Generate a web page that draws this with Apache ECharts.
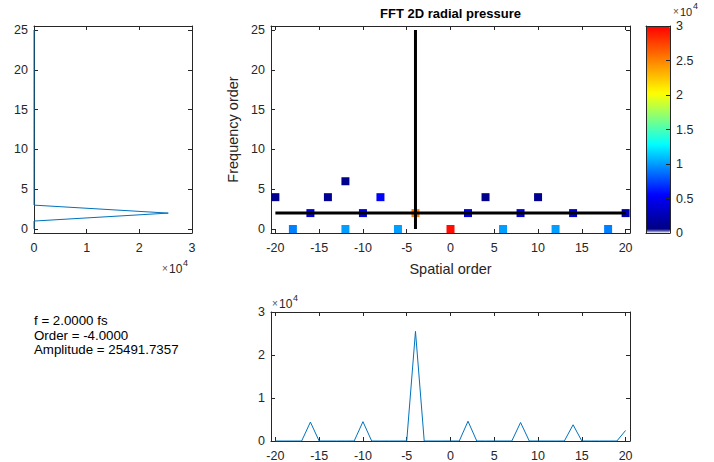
<!DOCTYPE html>
<html><head><meta charset="utf-8">
<script src="https://cdn.jsdelivr.net/npm/echarts@6/dist/echarts.min.js"></script>
<style>html,body{margin:0;padding:0;background:#fff}#c{width:714px;height:462px}</style>
</head><body><div id="c"></div>
<script>
// ---------------- data ----------------
const freqOrders = [0,1,2,3,4,5,6,7,8,9,10,11,12,13,14,15,16,17,18,19,20,21,22,23,24,25];
// amplitude along frequency order at spatial order -4 (left plot)
const ampVsFreq = [0,0,25491.7357,0,0,0,0,0,0,0,0,0,0,0,0,0,0,0,0,0,0,0,0,0,0,0];
const spatialOrders = [-20,-19,-18,-17,-16,-15,-14,-13,-12,-11,-10,-9,-8,-7,-6,-5,-4,-3,-2,-1,0,1,2,3,4,5,6,7,8,9,10,11,12,13,14,15,16,17,18,19,20];
// amplitude along spatial order at frequency order 2 (bottom plot)
const ampVsOrder = [0,0,0,0,4400,0,0,0,0,0,4500,0,0,0,0,0,25491.7357,0,0,0,0,0,4600,0,0,0,0,0,4300,0,0,0,0,0,3770,0,0,0,0,0,2460];
// 2D FFT non-zero cells
const scatterOrder = [-20,-14,-8,4,10,-12,-16,-10,-4,2,8,14,20,-18,-12,-6,0,6,12,18];
const scatterFreq  = [4,4,4,4,4,6,2,2,2,2,2,2,2,0,0,0,0,0,0,0];
const scatterAmp   = [1100,1200,5400,1000,1100,1000,4400,4500,25491.7357,4600,4300,3770,2460,9200,10100,10100,29500,10100,10100,9200];
// tick labels
const spatialTicks = [-20,-15,-10,-5,0,5,10,15,20];
const freqTicks = [0,5,10,15,20,25];
const ampTicks = [0,10000,20000,30000];
const colorbarTicks = [0,5000,10000,15000,20000,25000,30000];
// selected point
const selFreq = 2, selOrder = -4, selAmp = 25491.7357;
const titleText = 'FFT 2D radial pressure';
const xName = 'Spatial order', yName = 'Frequency order';

// ---------------- styles ----------------
const FONT = '"Liberation Sans", Arial, Helvetica, sans-serif';
const TXT = '#262626';
const LINE = '#0072BD';
const TICK_FS = 12.5;
const cmapStops = [[0,[0,0,128]],[0.17,[0,0,255]],[0.42,[0,255,255]],[0.67,[255,255,0]],[1,[255,0,0]]];
const cmap = ['#ffffff'];
for (let i = 0; i < 63; i++) {
  const t = i / 62;
  let k = 0; while (k < cmapStops.length - 2 && t > cmapStops[k+1][0]) k++;
  const [t0,c0] = cmapStops[k], [t1,c1] = cmapStops[k+1];
  const f = (t - t0) / (t1 - t0);
  const c = c0.map((v,j) => Math.round(v + (c1[j]-v)*f));
  cmap.push('rgb(' + c.join(',') + ')');
}
const e4 = v => (v/10000).toString();

function axis(dim, grid, min, max, ticks, pos, showLabels, fmt, extra) {
  const a = {
    type:'value', gridIndex:grid, min:min, max:max, position:pos,
    axisLine:{show:true, onZero:false, lineStyle:{color:TXT, width:1}},
    axisTick:{show:!!ticks, inside:true, length:4, lineStyle:{color:TXT}},
    axisLabel:{show:showLabels, color:TXT, fontSize:TICK_FS, fontFamily:FONT, margin:(dim==='x'?8:6), formatter: fmt || (v => String(v))},
    splitLine:{show:false}
  };
  if (ticks) { a.axisTick.customValues = ticks; a.axisLabel.customValues = ticks; }
  return Object.assign(a, extra || {});
}

const G0 = {left:34, top:26, width:158, height:207};
const G1 = {left:271, top:26, width:359, height:207};
const G2 = {left:271, top:312, width:359, height:130};
const G3 = {left:646, top:26, width:24, height:207};
const nameStyle = {color:TXT, fontSize:14.5, fontFamily:FONT};

const option = {
  animation:false,
  backgroundColor:'#fff',
  textStyle:{fontFamily:FONT},
  grid:[G0, G1, G2, G3].map(g => Object.assign({containLabel:false, show:false}, g)),
  xAxis:[
    axis('x',0,0,30000,ampTicks,'bottom',true,e4),
    axis('x',0,0,30000,ampTicks,'top',false),
    axis('x',1,-20.5,20.5,spatialTicks,'bottom',true,null,{name:xName, nameLocation:'middle', nameGap:28, nameTextStyle:nameStyle}),
    axis('x',1,-20.5,20.5,spatialTicks,'top',false),
    axis('x',2,-20.5,20.5,spatialTicks,'bottom',true),
    axis('x',2,-20.5,20.5,spatialTicks,'top',false),
    axis('x',3,0,1,null,'bottom',false,null,{z:10}),
    axis('x',3,0,1,null,'top',false,null,{z:10})
  ],
  yAxis:[
    axis('y',0,-0.5,25.5,freqTicks,'left',true),
    axis('y',0,-0.5,25.5,freqTicks,'right',false),
    axis('y',1,-0.5,25.5,freqTicks,'left',true,null,{name:yName, nameLocation:'middle', nameGap:22, nameTextStyle:nameStyle}),
    axis('y',1,-0.5,25.5,freqTicks,'right',false),
    axis('y',2,0,30000,ampTicks,'left',true,e4),
    axis('y',2,0,30000,ampTicks,'right',false),
    axis('y',3,0,30000,null,'left',false,null,{z:10}),
    axis('y',3,0,30000,colorbarTicks,'right',true,e4,{z:10})
  ],
  visualMap:{
    type:'continuous', min:0, max:30000, seriesIndex:1, dimension:2,
    inRange:{color:cmap}, left:G3.left, top:G3.top, itemWidth:G3.width, itemHeight:G3.height,
    calculable:false, hoverLink:false, padding:0, orient:'vertical', text:null
  },
  series:[
    {type:'line', xAxisIndex:0, yAxisIndex:0, showSymbol:false, symbol:'none',
     lineStyle:{color:LINE, width:1}, data: freqOrders.map((f,i) => [ampVsFreq[i], f])},
    {type:'scatter', xAxisIndex:2, yAxisIndex:2, symbol:'rect', symbolSize:8, itemStyle:{opacity:1},
     data: scatterOrder.map((o,i) => [o, scatterFreq[i], scatterAmp[i]])},
    {type:'line', xAxisIndex:2, yAxisIndex:2, symbol:'none', z:5, lineStyle:{color:'#000', width:3},
     data:[[spatialOrders[0], selFreq],[spatialOrders[spatialOrders.length-1], selFreq]]},
    {type:'line', xAxisIndex:2, yAxisIndex:2, symbol:'none', z:5, lineStyle:{color:'#000', width:3},
     data:[[selOrder, freqOrders[0]],[selOrder, freqOrders[freqOrders.length-1]]]},
    {type:'line', xAxisIndex:4, yAxisIndex:4, symbol:'none',
     lineStyle:{color:LINE, width:1}, data: spatialOrders.map((o,i) => [o, ampVsOrder[i]])}
  ],
  graphic:[
    {type:'text', x:G1.left + G1.width/2, y:7, style:{text:titleText, font:'bold 13px ' + FONT, fill:'#000', textAlign:'center'}},
    {type:'text', x:34, y:314, style:{text:'f = ' + selFreq.toFixed(4) + ' fs', font:'13.3px ' + FONT, fill:'#000'}},
    {type:'text', x:34, y:328.5, style:{text:'Order = ' + selOrder.toFixed(4), font:'13.3px ' + FONT, fill:'#000'}},
    {type:'text', x:34, y:343, style:{text:'Amplitude = ' + selAmp.toFixed(4), font:'13.3px ' + FONT, fill:'#000'}},
    // x10^4 exponent labels
    {type:'text', x:162, y:263, style:{text:'×', font:'10px ' + FONT, fill:'#555'}},
    {type:'text', x:169, y:263, style:{text:'10', font:'12px ' + FONT, fill:TXT}},
    {type:'text', x:183, y:258, style:{text:'4', font:'9px ' + FONT, fill:TXT}},
    {type:'text', x:673, y:6, style:{text:'×', font:'10px ' + FONT, fill:'#555'}},
    {type:'text', x:680, y:6, style:{text:'10', font:'11px ' + FONT, fill:TXT}},
    {type:'text', x:693, y:1, style:{text:'4', font:'9px ' + FONT, fill:TXT}},
    {type:'text', x:272, y:298, style:{text:'×', font:'10px ' + FONT, fill:'#555'}},
    {type:'text', x:279, y:298, style:{text:'10', font:'12px ' + FONT, fill:TXT}},
    {type:'text', x:293, y:293, style:{text:'4', font:'9px ' + FONT, fill:TXT}}
  ]
};
const chart = echarts.init(document.getElementById('c'), null, {renderer:'svg', width:714, height:462});
chart.setOption(option);
</script>
</body></html>
